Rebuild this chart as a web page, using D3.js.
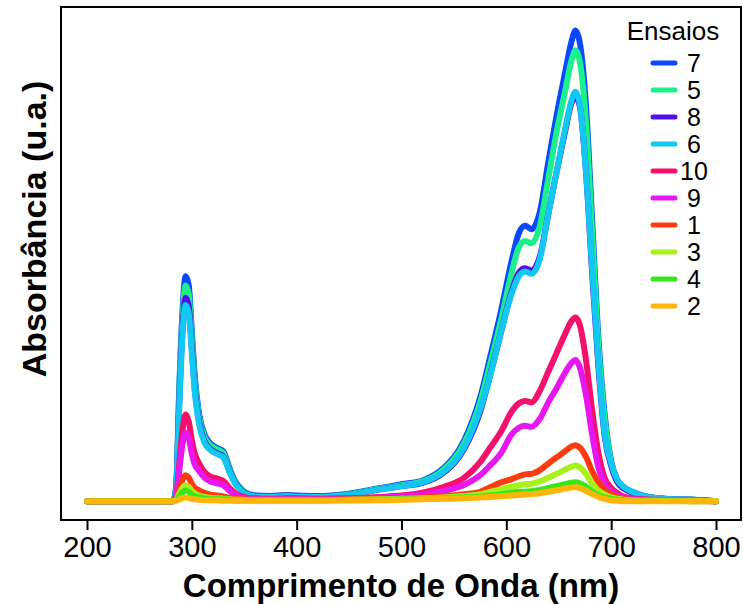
<!DOCTYPE html>
<html>
<head>
<meta charset="utf-8">
<script src="https://cdn.jsdelivr.net/npm/d3@7"></script>
<style>
  body { margin: 0; background: #fff; }
  text { font-family: "Liberation Sans", Arial, sans-serif; fill: #000; }
</style>
</head>
<body>
<div id="chart"></div>
<script>
// wavelength grid (nm), shared by every trial
var wavelengths = [200, 282, 285, 288, 291, 294, 297, 300, 303, 307,
  312, 318, 324, 330, 336, 342, 348, 354, 362, 375,
  390, 400, 420, 450, 480, 500, 520, 540, 560, 575,
  585, 595, 605, 612, 618, 624, 632, 640, 648, 656,
  662, 666, 670, 676, 682, 688, 694, 700, 706, 712,
  720, 730, 745, 760, 778, 800];

// absorbance (a.u.), one array per trial ("ensaio")
var ensaio7 = [0, 0, 0.03, 0.24, 0.40, 0.478, 0.46, 0.36, 0.26, 0.185,
  0.142, 0.122, 0.113, 0.106, 0.07, 0.04, 0.024, 0.016, 0.012, 0.011,
  0.013, 0.012, 0.011, 0.016, 0.028, 0.036, 0.044, 0.07, 0.13, 0.22,
  0.31, 0.405, 0.51, 0.57, 0.585, 0.578, 0.615, 0.72, 0.82, 0.91,
  0.975, 1.0, 0.975, 0.84, 0.59, 0.34, 0.18, 0.085, 0.045, 0.03,
  0.02, 0.012, 0.006, 0.004, 0.003, 0];
var ensaio5 = [0, 0, 0.028, 0.23, 0.38, 0.458, 0.44, 0.345, 0.25, 0.178,
  0.137, 0.118, 0.11, 0.102, 0.067, 0.038, 0.023, 0.015, 0.011, 0.010,
  0.012, 0.011, 0.010, 0.015, 0.027, 0.034, 0.042, 0.067, 0.124, 0.21,
  0.295, 0.385, 0.485, 0.54, 0.553, 0.548, 0.585, 0.685, 0.785, 0.87,
  0.935, 0.958, 0.935, 0.805, 0.565, 0.325, 0.17, 0.081, 0.043, 0.028,
  0.019, 0.011, 0.006, 0.004, 0.003, 0];
var ensaio8 = [0, 0, 0.025, 0.21, 0.36, 0.432, 0.415, 0.325, 0.235, 0.168,
  0.128, 0.11, 0.102, 0.095, 0.063, 0.036, 0.021, 0.014, 0.011, 0.010,
  0.012, 0.011, 0.010, 0.014, 0.025, 0.032, 0.039, 0.06, 0.112, 0.19,
  0.272, 0.36, 0.445, 0.486, 0.495, 0.49, 0.52, 0.61, 0.7, 0.785,
  0.845, 0.86, 0.84, 0.70, 0.48, 0.28, 0.135, 0.075, 0.04, 0.027,
  0.018, 0.011, 0.006, 0.004, 0.003, 0];
var ensaio6 = [0, 0, 0.022, 0.2, 0.35, 0.417, 0.40, 0.315, 0.228, 0.163,
  0.125, 0.108, 0.1, 0.093, 0.062, 0.035, 0.02, 0.013, 0.01, 0.009,
  0.011, 0.01, 0.009, 0.014, 0.025, 0.032, 0.04, 0.062, 0.115, 0.195,
  0.27, 0.36, 0.44, 0.478, 0.488, 0.483, 0.515, 0.61, 0.7, 0.79,
  0.85, 0.87, 0.845, 0.70, 0.49, 0.29, 0.14, 0.08, 0.045, 0.03,
  0.02, 0.012, 0.006, 0.004, 0.003, 0];
var ensaio10 = [0, 0, 0.01, 0.08, 0.15, 0.184, 0.17, 0.13, 0.1, 0.08,
  0.062, 0.052, 0.048, 0.043, 0.028, 0.016, 0.01, 0.007, 0.006, 0.005,
  0.006, 0.006, 0.005, 0.006, 0.009, 0.012, 0.018, 0.03, 0.05, 0.083,
  0.115, 0.148, 0.19, 0.208, 0.213, 0.21, 0.235, 0.275, 0.315, 0.355,
  0.382, 0.39, 0.375, 0.3, 0.19, 0.1, 0.048, 0.028, 0.017, 0.01,
  0.006, 0.004, 0.003, 0.002, 0.002, 0];
var ensaio9 = [0, 0, 0.008, 0.065, 0.12, 0.146, 0.135, 0.1, 0.077, 0.064,
  0.05, 0.042, 0.038, 0.034, 0.022, 0.013, 0.008, 0.006, 0.005, 0.004,
  0.005, 0.005, 0.004, 0.005, 0.008, 0.01, 0.014, 0.022, 0.035, 0.055,
  0.077, 0.102, 0.142, 0.156, 0.16, 0.158, 0.175, 0.21, 0.24, 0.273,
  0.293, 0.3, 0.285, 0.225, 0.14, 0.07, 0.036, 0.02, 0.012, 0.008,
  0.005, 0.003, 0.002, 0.002, 0.001, 0];
var ensaio1 = [0, 0, 0.004, 0.025, 0.045, 0.055, 0.05, 0.037, 0.028, 0.023,
  0.018, 0.014, 0.012, 0.01, 0.007, 0.005, 0.004, 0.003, 0.003, 0.003,
  0.003, 0.003, 0.003, 0.004, 0.005, 0.006, 0.008, 0.011, 0.015, 0.02,
  0.03, 0.04, 0.047, 0.053, 0.057, 0.058, 0.066, 0.08, 0.093, 0.106,
  0.116, 0.119, 0.114, 0.094, 0.063, 0.04, 0.025, 0.015, 0.009, 0.005,
  0.003, 0.002, 0.002, 0.001, 0.001, 0];
var ensaio3 = [0, 0, 0.003, 0.016, 0.028, 0.034, 0.03, 0.022, 0.016, 0.012,
  0.009, 0.007, 0.006, 0.005, 0.004, 0.003, 0.003, 0.002, 0.002, 0.002,
  0.002, 0.002, 0.002, 0.003, 0.004, 0.005, 0.006, 0.008, 0.011, 0.015,
  0.02, 0.025, 0.031, 0.034, 0.036, 0.037, 0.042, 0.05, 0.058, 0.067,
  0.073, 0.076, 0.072, 0.058, 0.037, 0.022, 0.014, 0.008, 0.005, 0.003,
  0.002, 0.001, 0.001, 0.001, 0.001, 0];
var ensaio4 = [0, 0, 0.002, 0.01, 0.018, 0.023, 0.02, 0.014, 0.01, 0.008,
  0.006, 0.005, 0.004, 0.004, 0.003, 0.002, 0.002, 0.002, 0.002, 0.002,
  0.002, 0.002, 0.002, 0.002, 0.003, 0.004, 0.005, 0.006, 0.008, 0.01,
  0.012, 0.015, 0.018, 0.02, 0.02, 0.021, 0.024, 0.028, 0.032, 0.036,
  0.039, 0.04, 0.038, 0.031, 0.02, 0.012, 0.008, 0.005, 0.003, 0.002,
  0.001, 0.001, 0.001, 0.001, 0, 0];
var ensaio2 = [0, 0, 0.001, 0.004, 0.007, 0.008, 0.007, 0.005, 0.004, 0.003,
  0.002, 0.002, 0.002, 0.001, 0.001, 0.001, 0.001, 0.001, 0.001, 0.001,
  0.001, 0.001, 0.001, 0.002, 0.002, 0.003, 0.004, 0.005, 0.006, 0.008,
  0.009, 0.011, 0.012, 0.013, 0.014, 0.015, 0.017, 0.02, 0.023, 0.027,
  0.029, 0.03, 0.028, 0.022, 0.015, 0.009, 0.005, 0.002, 0.001, 0,
  0, 0, 0, 0, 0, 0];

// legend / drawing order (later ones on top)
var ensaios = ["7", "5", "8", "6", "10", "9", "1", "3", "4", "2"];
var valores = [ensaio7, ensaio5, ensaio8, ensaio6, ensaio10, ensaio9, ensaio1, ensaio3, ensaio4, ensaio2];
var cores = ["#0a48ff", "#1cf08c", "#5210e6", "#12c8f2", "#f5106e", "#e816f0", "#ff3a10", "#a8f01a", "#36e81a", "#ffb508"];
var xTicks = [200, 300, 400, 500, 600, 700, 800];

var width = 743,
height = 604;

var svg = d3.select("#chart")
.append("svg")
.attr("width", width)
.attr("height", height);

var x = d3.scaleLinear()
.domain([200, 800])
.range([87, 716]);

var y = d3.scaleLinear()
.domain([-0.04, 1.05])
.range([520, 7]);

var line = d3.line()
.x(function(d) { return x(d[0]); })
.y(function(d) { return y(d[1]); })
.curve(d3.curveMonotoneX);

// spectra
svg.append("g")
.selectAll("path")
.data(valores)
.enter()
.append("path")
.attr("d", function(v) { return line(wavelengths.map(function(w, i) { return [w, v[i]]; })); })
.attr("fill", "none")
.attr("stroke", function(d, i) { return cores[i]; })
.attr("stroke-width", 6)
.attr("stroke-linejoin", "round")
.attr("stroke-linecap", "round");

// frame
svg.append("rect")
.attr("x", 61)
.attr("y", 7)
.attr("width", 680)
.attr("height", 513)
.attr("fill", "none")
.attr("stroke", "#000")
.attr("stroke-width", 2);

// x axis
var xAxis = d3.axisBottom(x)
.tickValues(xTicks)
.tickSize(10)
.tickPadding(6)
.tickFormat(d3.format("d"));

var gx = svg.append("g")
.attr("transform", "translate(0,520)")
.call(xAxis);
gx.select(".domain").remove();
gx.selectAll(".tick line").attr("stroke", "#000").attr("stroke-width", 2);
gx.selectAll(".tick text")
.style("font-family", "'Liberation Sans', Arial, sans-serif")
.style("font-size", "29px")
.attr("fill", "#000");

// axis titles
svg.append("text")
.attr("x", 401)
.attr("y", 597)
.attr("text-anchor", "middle")
.style("font-size", "33px")
.style("font-weight", "bold")
.text("Comprimento de Onda (nm)");

svg.append("text")
.attr("transform", "translate(46,229) rotate(-90)")
.attr("text-anchor", "middle")
.style("font-size", "34px")
.style("font-weight", "bold")
.text("Absorbância (u.a.)");

// legend
var legend = svg.append("g");

legend.append("text")
.attr("x", 673)
.attr("y", 40)
.attr("text-anchor", "middle")
.style("font-size", "26px")
.text("Ensaios");

var item = legend.selectAll(".item")
.data(ensaios)
.enter()
.append("g")
.attr("class", "item")
.attr("transform", function(d, i) { return "translate(0," + (63 + i * 27) + ")"; });

item.append("line")
.attr("x1", 653)
.attr("x2", 675)
.attr("stroke", function(d, i) { return cores[i]; })
.attr("stroke-width", 5)
.attr("stroke-linecap", "round");

item.append("text")
.attr("x", 694)
.attr("y", 9)
.attr("text-anchor", "middle")
.style("font-size", "25px")
.text(function(d) { return d; });
</script>
</body>
</html>
